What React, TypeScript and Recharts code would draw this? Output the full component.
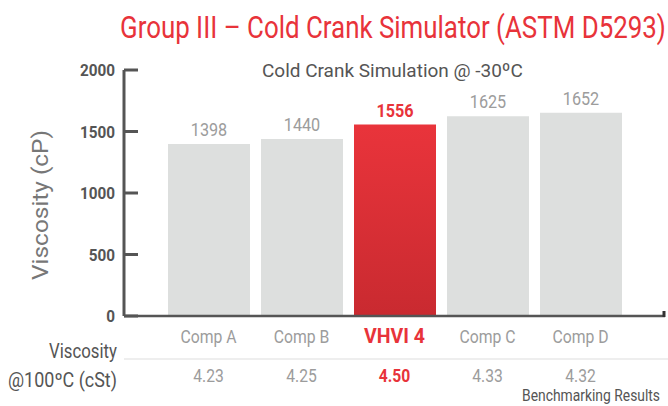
import React from "react";
import { BarChart, Bar, XAxis, YAxis, Cell, LabelList } from "recharts";

const categories = ["Comp A", "Comp B", "VHVI 4", "Comp C", "Comp D"];
const ccsValues = [1398, 1440, 1556, 1625, 1652];
const kv100Values = ["4.23", "4.25", "4.50", "4.33", "4.32"];
const yTicks = [0, 500, 1000, 1500, 2000];
const highlight = "VHVI 4";

const chartData = categories.map((name, i) => ({
  name,
  ccs: ccsValues[i],
  kv100: kv100Values[i],
}));

const FONT = "Roboto";
const RED = "#e8333a";
const DARK = "#555555";
const LIGHT = "#9c9c9c";

// canvas measuring so condensed text can be squeezed to a target width
let ctx: CanvasRenderingContext2D | null = null;
function measure(text: string, size: number, weight: string) {
  if (!ctx) ctx = document.createElement("canvas").getContext("2d");
  if (!ctx) return text.length * size * 0.5;
  ctx.font = `${weight} ${size}px ${FONT}`;
  return ctx.measureText(text).width;
}

const Cond = ({ text, x, y, size, fill, weight = "normal", anchor = "start", width, sx = 0.88, rotate = 0 }: any) => {
  const s = width ? width / measure(text, size, weight) : sx;
  const rot = rotate ? ` rotate(${rotate})` : "";
  return (
    <text
      transform={`translate(${x},${y})${rot} scale(${s},1)`}
      textAnchor={anchor}
      fontFamily={FONT}
      fontSize={size}
      fontWeight={weight}
      fill={fill}
    >
      {text}
    </text>
  );
};

const YTick = (props: any) => {
  const { x, y, payload } = props;
  return (
    <g>
      <line x1={x + 9} x2={x + 23} y1={y} y2={y} stroke={DARK} strokeWidth={3} />
      <Cond text={String(payload.value)} x={x} y={y + 6} size={17} weight="bold" fill={DARK} anchor="end" sx={0.9} />
    </g>
  );
};

const XTick = (props: any) => {
  const { x, y, payload, index } = props;
  const isHi = payload.value === highlight;
  return (
    <g>
      <Cond
        text={payload.value}
        x={x}
        y={y + 27}
        size={isHi ? 21 : 19}
        weight={isHi ? "bold" : "normal"}
        fill={isHi ? RED : LIGHT}
        anchor="middle"
        sx={isHi ? 0.93 : 0.83}
      />
      <Cond
        text={kv100Values[index]}
        x={x}
        y={y + 66}
        size={18}
        weight={isHi ? "bold" : "normal"}
        fill={isHi ? RED : LIGHT}
        anchor="middle"
        sx={0.87}
      />
    </g>
  );
};

const BarValue = (props: any) => {
  const { x, y, width, value, index } = props;
  const isHi = categories[index] === highlight;
  return (
    <Cond
      text={String(value)}
      x={x + width / 2}
      y={y - 8}
      size={18}
      weight={isHi ? "bold" : "normal"}
      fill={isHi ? RED : LIGHT}
      anchor="middle"
      sx={0.9}
    />
  );
};

export default function App() {
  return (
    <div style={{ position: "absolute", left: 0, top: 0, width: 668, height: 406, background: "#fff" }}>
      <BarChart
        width={668}
        height={406}
        data={chartData}
        margin={{ top: 70, right: 3, left: 64, bottom: 60 }}
        barSize={82}
      >
        <defs>
          <linearGradient id="redFill" x1="0" y1="0" x2="0" y2="1">
            <stop offset="0%" stopColor="#e9343b" />
            <stop offset="100%" stopColor="#c92a30" />
          </linearGradient>
        </defs>
        <XAxis
          dataKey="name"
          height={30}
          padding={{ left: 38, right: 38 }}
          axisLine={{ stroke: DARK, strokeWidth: 2.5 }}
          tickLine={false}
          tickSize={0}
          tickMargin={0}
          tick={<XTick />}
          interval={0}
        />
        <YAxis
          width={60}
          domain={[0, 2000]}
          ticks={yTicks}
          axisLine={{ stroke: DARK, strokeWidth: 3 }}
          tickLine={false}
          tickSize={0}
          tickMargin={9}
          tick={<YTick />}
        />
        <Bar dataKey="ccs" isAnimationActive={false}>
          {chartData.map((d) => (
            <Cell key={d.name} fill={d.name === highlight ? "url(#redFill)" : "#dddfde"} />
          ))}
          <LabelList dataKey="ccs" content={<BarValue />} />
        </Bar>
      </BarChart>
      <svg
        width={668}
        height={406}
        style={{ position: "absolute", left: 0, top: 0, pointerEvents: "none" }}
      >
        <Cond text="Group III – Cold Crank Simulator (ASTM D5293)" x={120} y={38} size={32} fill={RED} width={546} />
        <Cond text="Cold Crank Simulation @ -30ºC" x={262} y={77} size={19} fill={DARK} width={261} />
        <Cond text="Viscosity (cP)" x={48} y={205} size={22} fill="#777" anchor="middle" width={150} rotate={-90} />
        <line x1={124} x2={668} y1={359} y2={359} stroke="#eeeeee" strokeWidth={2} />
        <line x1={664} x2={664} y1={311} y2={317} stroke="#333" strokeWidth={3} />
        <Cond text="Viscosity" x={117} y={358} size={20} fill={DARK} anchor="end" width={68} />
        <Cond text="@100ºC (cSt)" x={117} y={387} size={20} fill={DARK} anchor="end" width={109} />
        <Cond text="Benchmarking Results" x={660} y={401} size={16} fill={DARK} anchor="end" width={138} />
      </svg>
    </div>
  );
}
